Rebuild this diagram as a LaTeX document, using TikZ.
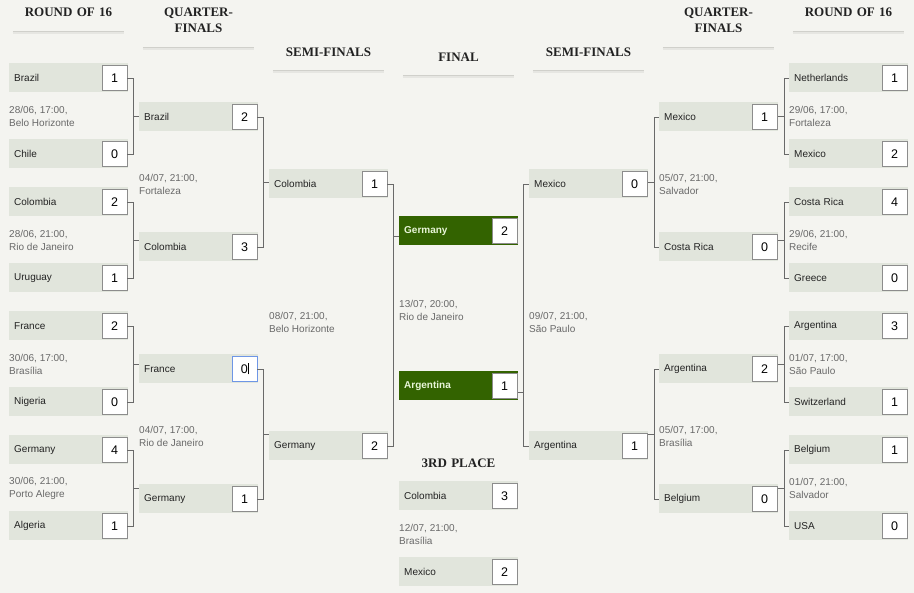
\documentclass[tikz,border=0pt]{standalone}
\usepackage{fontspec}
\setmainfont{Liberation Serif}
\setsansfont{Liberation Sans}
\usepackage{xcolor}
\usepackage{tikz}
\usetikzlibrary{positioning, calc}
\definecolor{pagebg}{RGB}{244,244,240}
\definecolor{boxgray}{RGB}{225,229,220}
\definecolor{scoreline}{RGB}{140,140,140}
\definecolor{linkgray}{RGB}{105,105,105}
\definecolor{textdark}{RGB}{34,34,34}
\definecolor{dategray}{RGB}{105,105,105}
\definecolor{finalgreen}{RGB}{51,99,0}
\definecolor{finaltext}{RGB}{232,245,215}
\definecolor{focusblue}{RGB}{110,150,230}
\definecolor{ruleshade}{RGB}{208,208,203}
\definecolor{ruleglow}{RGB}{230,230,226}
\tikzset{
    teambox/.style={
        fill=boxgray, minimum height=29pt, text width=109pt,
        inner xsep=5pt, inner ysep=0pt, anchor=west, align=left,
        font=\sffamily\fontsize{10}{13}\selectfont, text=textdark
    },
    finalbox/.style={
        teambox, fill=finalgreen, text=finaltext
    },
    scorebox/.style={
        draw=scoreline, fill=white, minimum size=25pt, inner sep=0pt,
        font=\sffamily\fontsize{12.5}{14}\selectfont, text=black
    },
    datetext/.style={
        anchor=west, align=left, inner sep=0pt,
        font=\sffamily\fontsize{10}{13}\selectfont, text=dategray
    },
    bracket/.style={
        draw=linkgray, line width=0.8pt
    }
}

\begin{document}
\begin{tikzpicture}[
        x=1pt, y=-1pt,
        % Style cho tiêu đề vòng đấu
        roundtitle/.style={
            font=\fontsize{13}{16}\selectfont\bfseries, text=textdark,
            align=center, text width=111pt, inner sep=0pt
        },
        % Style cho gạch dưới tiêu đề
        titleline/.style={draw=ruleshade, line width=1pt,
            postaction={draw=ruleglow, line width=2.5pt, transform canvas={yshift=-1.6pt}}}
    ]

        % nền
        \fill[pagebg] (0,0) rectangle (914,593);
        \useasboundingbox (0,0) rectangle (914,593);

        % ==========================================
        % TIÊU ĐỀ CÁC VÒNG
        % ==========================================
        \node[roundtitle] (h16l) at (68.5,12) {ROUND OF 16};
        \node[roundtitle] (hqfl) at (198.5,20) {QUARTER-\\FINALS};
        \node[roundtitle] (hsfl) at (328.5,52) {SEMI-FINALS};
        \node[roundtitle] (hfin) at (458.5,57) {FINAL};
        \node[roundtitle] (hsfr) at (588.5,52) {SEMI-FINALS};
        \node[roundtitle] (hqfr) at (718.5,20) {QUARTER-\\FINALS};
        \node[roundtitle] (h16r) at (848.5,12) {ROUND OF 16};
        \node[roundtitle] (h3rd) at (458.5,463) {3RD PLACE};

        \draw[titleline] ([yshift=-15pt]h16l.south west) -- ([yshift=-15pt]h16l.south east);
        \draw[titleline] ([yshift=-15pt]hqfl.south west) -- ([yshift=-15pt]hqfl.south east);
        \draw[titleline] ([yshift=-14pt]hsfl.south west) -- ([yshift=-14pt]hsfl.south east);
        \draw[titleline] ([yshift=-14pt]hfin.south west) -- ([yshift=-14pt]hfin.south east);
        \draw[titleline] ([yshift=-14pt]hsfr.south west) -- ([yshift=-14pt]hsfr.south east);
        \draw[titleline] ([yshift=-15pt]hqfr.south west) -- ([yshift=-15pt]hqfr.south east);
        \draw[titleline] ([yshift=-15pt]h16r.south west) -- ([yshift=-15pt]h16r.south east);

        % ==========================================
        % VÒNG 1/8 (BÊN TRÁI)
        % ==========================================
        \node[teambox] (bra16) at (9,78) {Brazil};
        \node[scorebox, left=1pt of bra16.east] (bra16s) {1};
        \node[teambox] (chi16) at (9,154) {Chile};
        \node[scorebox, left=1pt of chi16.east] (chi16s) {0};
        \node[datetext] (d16a) at (9,116) {28/06, 17:00,\\Belo Horizonte};

        \node[teambox] (col16) at (9,202) {Colombia};
        \node[scorebox, left=1pt of col16.east] (col16s) {2};
        \node[teambox] (uru16) at (9,278) {Uruguay};
        \node[scorebox, left=1pt of uru16.east] (uru16s) {1};
        \node[datetext] (d16b) at (9,240) {28/06, 21:00,\\Rio de Janeiro};

        \node[teambox] (fra16) at (9,326) {France};
        \node[scorebox, left=1pt of fra16.east] (fra16s) {2};
        \node[teambox] (nga16) at (9,402) {Nigeria};
        \node[scorebox, left=1pt of nga16.east] (nga16s) {0};
        \node[datetext] (d16c) at (9,364) {30/06, 17:00,\\Brasília};

        \node[teambox] (ger16) at (9,450) {Germany};
        \node[scorebox, left=1pt of ger16.east] (ger16s) {4};
        \node[teambox] (alg16) at (9,526) {Algeria};
        \node[scorebox, left=1pt of alg16.east] (alg16s) {1};
        \node[datetext] (d16d) at (9,488) {30/06, 21:00,\\Porto Alegre};

        % ==========================================
        % TỨ KẾT (BÊN TRÁI)
        % ==========================================
        \node[teambox] (braqf) at (139,117) {Brazil};
        \node[scorebox, left=1pt of braqf.east] (braqfs) {2};
        \node[teambox] (colqf) at (139,247) {Colombia};
        \node[scorebox, left=1pt of colqf.east] (colqfs) {3};
        \node[datetext] (dqfa) at (139,184) {04/07, 21:00,\\Fortaleza};

        \node[teambox] (fraqf) at (139,369) {France};
        \node[scorebox, draw=focusblue, left=1pt of fraqf.east] (fraqfs) {0\rule[-1pt]{0.6pt}{11pt}};
        \node[teambox] (gerqf) at (139,499) {Germany};
        \node[scorebox, left=1pt of gerqf.east] (gerqfs) {1};
        \node[datetext] (dqfb) at (139,436) {04/07, 17:00,\\Rio de Janeiro};

        % ==========================================
        % BÁN KẾT (BÊN TRÁI)
        % ==========================================
        \node[teambox] (colsf) at (269,184) {Colombia};
        \node[scorebox, left=1pt of colsf.east] (colsfs) {1};
        \node[teambox] (gersf) at (269,446) {Germany};
        \node[scorebox, left=1pt of gersf.east] (gersfs) {2};
        \node[datetext] (dsfa) at (269,322) {08/07, 21:00,\\Belo Horizonte};

        % ==========================================
        % CHUNG KẾT VÀ TRANH HẠNG BA
        % ==========================================
        \node[finalbox] (gerfin) at (399,231) {\textbf{Germany}};
        \node[scorebox, left=1pt of gerfin.east] (gerfins) {2};
        \node[finalbox] (argfin) at (399,386) {\textbf{Argentina}};
        \node[scorebox, left=1pt of argfin.east] (argfins) {1};
        \node[datetext] (dfin) at (399,310) {13/07, 20:00,\\Rio de Janeiro};

        \node[teambox] (col3rd) at (399,496) {Colombia};
        \node[scorebox, left=1pt of col3rd.east] (col3rds) {3};
        \node[teambox] (mex3rd) at (399,572) {Mexico};
        \node[scorebox, left=1pt of mex3rd.east] (mex3rds) {2};
        \node[datetext] (d3rd) at (399,534) {12/07, 21:00,\\Brasília};

        % ==========================================
        % BÁN KẾT (BÊN PHẢI)
        % ==========================================
        \node[teambox] (mexsf) at (529,184) {Mexico};
        \node[scorebox, left=1pt of mexsf.east] (mexsfs) {0};
        \node[teambox] (argsf) at (529,446) {Argentina};
        \node[scorebox, left=1pt of argsf.east] (argsfs) {1};
        \node[datetext] (dsfb) at (529,322) {09/07, 21:00,\\São Paulo};

        % ==========================================
        % TỨ KẾT (BÊN PHẢI)
        % ==========================================
        \node[teambox] (mexqf) at (659,117) {Mexico};
        \node[scorebox, left=1pt of mexqf.east] (mexqfs) {1};
        \node[teambox] (crcqf) at (659,247) {Costa Rica};
        \node[scorebox, left=1pt of crcqf.east] (crcqfs) {0};
        \node[datetext] (dqfc) at (659,184) {05/07, 21:00,\\Salvador};

        \node[teambox] (argqf) at (659,369) {Argentina};
        \node[scorebox, left=1pt of argqf.east] (argqfs) {2};
        \node[teambox] (belqf) at (659,499) {Belgium};
        \node[scorebox, left=1pt of belqf.east] (belqfs) {0};
        \node[datetext] (dqfd) at (659,436) {05/07, 17:00,\\Brasília};

        % ==========================================
        % VÒNG 1/8 (BÊN PHẢI)
        % ==========================================
        \node[teambox] (ned16) at (789,78) {Netherlands};
        \node[scorebox, left=1pt of ned16.east] (ned16s) {1};
        \node[teambox] (mex16) at (789,154) {Mexico};
        \node[scorebox, left=1pt of mex16.east] (mex16s) {2};
        \node[datetext] (d16e) at (789,116) {29/06, 17:00,\\Fortaleza};

        \node[teambox] (crc16) at (789,202) {Costa Rica};
        \node[scorebox, left=1pt of crc16.east] (crc16s) {4};
        \node[teambox] (gre16) at (789,278) {Greece};
        \node[scorebox, left=1pt of gre16.east] (gre16s) {0};
        \node[datetext] (d16f) at (789,240) {29/06, 21:00,\\Recife};

        \node[teambox] (arg16) at (789,326) {Argentina};
        \node[scorebox, left=1pt of arg16.east] (arg16s) {3};
        \node[teambox] (sui16) at (789,402) {Switzerland};
        \node[scorebox, left=1pt of sui16.east] (sui16s) {1};
        \node[datetext] (d16g) at (789,364) {01/07, 17:00,\\São Paulo};

        \node[teambox] (bel16) at (789,450) {Belgium};
        \node[scorebox, left=1pt of bel16.east] (bel16s) {1};
        \node[teambox] (usa16) at (789,526) {USA};
        \node[scorebox, left=1pt of usa16.east] (usa16s) {0};
        \node[datetext] (d16h) at (789,488) {01/07, 21:00,\\Salvador};

        % ==========================================
        % ĐƯỜNG NỐI (BÊN TRÁI)
        % ==========================================
        \draw[bracket] (bra16s.east) -- ++(6,0) coordinate (v1) |- (chi16s.east);
        \draw[bracket] ($(v1)!.5!(v1 |- chi16s.east)$) coordinate (m1) -- (m1 -| braqf.west);
        \draw[bracket] (col16s.east) -- ++(6,0) coordinate (v2) |- (uru16s.east);
        \draw[bracket] ($(v2)!.5!(v2 |- uru16s.east)$) coordinate (m2) -- (m2 -| colqf.west);
        \draw[bracket] (fra16s.east) -- ++(6,0) coordinate (v3) |- (nga16s.east);
        \draw[bracket] ($(v3)!.5!(v3 |- nga16s.east)$) coordinate (m3) -- (m3 -| fraqf.west);
        \draw[bracket] (ger16s.east) -- ++(6,0) coordinate (v4) |- (alg16s.east);
        \draw[bracket] ($(v4)!.5!(v4 |- alg16s.east)$) coordinate (m4) -- (m4 -| gerqf.west);

        \draw[bracket] (braqfs.east) -- ++(6,0) coordinate (v5) |- (colqfs.east);
        \draw[bracket] ($(v5)!.5!(v5 |- colqfs.east)$) coordinate (m5) -- (m5 -| colsf.west);
        \draw[bracket] (fraqfs.east) -- ++(6,0) coordinate (v6) |- (gerqfs.east);
        \draw[bracket] ($(v6)!.5!(v6 |- gerqfs.east)$) coordinate (m6) -- (m6 -| gersf.west);

        \draw[bracket] (colsfs.east) -- ++(6,0) coordinate (v7) |- (gersfs.east);
        \coordinate (t7) at ([yshift=-5pt]gerfin.west);
        \draw[bracket] (t7 -| v7) -- (t7);

        % ==========================================
        % ĐƯỜNG NỐI (BÊN PHẢI)
        % ==========================================
        \draw[bracket] (ned16.west) -- ++(-5,0) coordinate (v8) |- (mex16.west);
        \draw[bracket] ($(v8)!.5!(v8 |- mex16.west)$) coordinate (m8) -- (m8 -| mexqf.east);
        \draw[bracket] (crc16.west) -- ++(-5,0) coordinate (v9) |- (gre16.west);
        \draw[bracket] ($(v9)!.5!(v9 |- gre16.west)$) coordinate (m9) -- (m9 -| crcqf.east);
        \draw[bracket] (arg16.west) -- ++(-5,0) coordinate (v10) |- (sui16.west);
        \draw[bracket] ($(v10)!.5!(v10 |- sui16.west)$) coordinate (m10) -- (m10 -| argqf.east);
        \draw[bracket] (bel16.west) -- ++(-5,0) coordinate (v11) |- (usa16.west);
        \draw[bracket] ($(v11)!.5!(v11 |- usa16.west)$) coordinate (m11) -- (m11 -| belqf.east);

        \draw[bracket] (mexqf.west) -- ++(-5,0) coordinate (v12) |- (crcqf.west);
        \draw[bracket] ($(v12)!.5!(v12 |- crcqf.west)$) coordinate (m12) -- (m12 -| mexsf.east);
        \draw[bracket] (argqf.west) -- ++(-5,0) coordinate (v13) |- (belqf.west);
        \draw[bracket] ($(v13)!.5!(v13 |- belqf.west)$) coordinate (m13) -- (m13 -| argsf.east);

        \draw[bracket] (mexsf.west) -- ++(-6,0) coordinate (v14) |- (argsf.west);
        \coordinate (t14) at ([yshift=-6pt]argfin.east);
        \draw[bracket] (t14) -- (t14 -| v14);

    \end{tikzpicture}
\end{document}
